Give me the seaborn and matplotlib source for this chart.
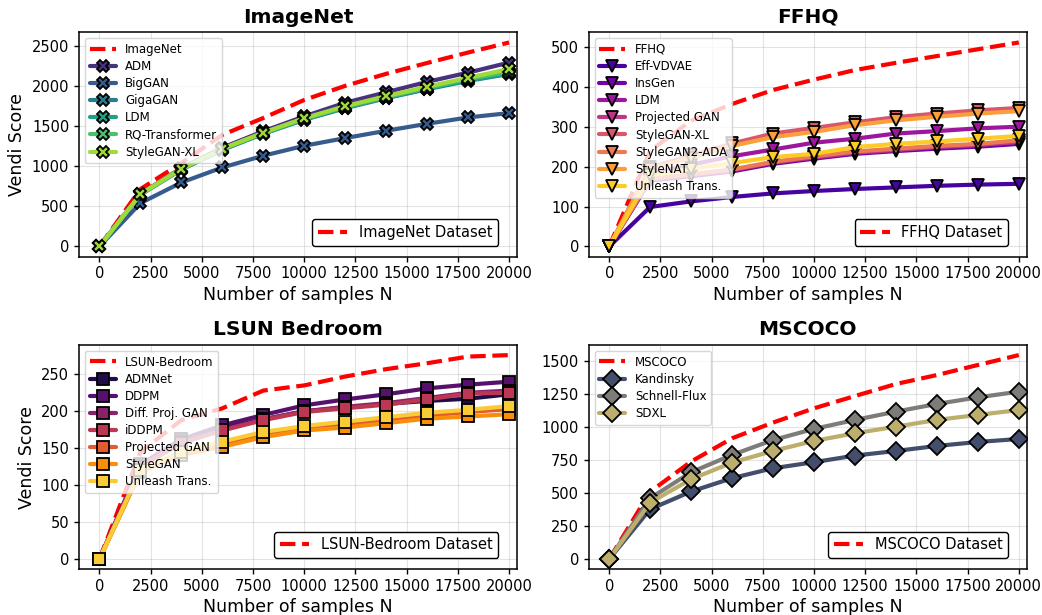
import numpy as np
import pandas as pd
import matplotlib
matplotlib.use("Agg")
import matplotlib.pyplot as plt
import seaborn as sns
from matplotlib.lines import Line2D

# Sample counts shared by every panel
n_samples = [0, 2000, 4000, 6000, 8000, 10000, 12000, 14000, 16000, 18000, 20000]

# ---- ImageNet ----
imagenet_dataset = [0, 715, 1040, 1390, 1600, 1825, 2000, 2150, 2285, 2415, 2540]
imagenet_models = ["ADM", "BigGAN", "GigaGAN", "LDM", "RQ-Transformer", "StyleGAN-XL"]
imagenet_adm = [0, 655, 975, 1230, 1435, 1620, 1790, 1920, 2050, 2165, 2290]
imagenet_biggan = [0, 540, 797, 984, 1130, 1254, 1350, 1441, 1528, 1607, 1661]
imagenet_gigagan = [0, 645, 958, 1203, 1403, 1578, 1722, 1846, 1958, 2062, 2148]
imagenet_ldm = [0, 648, 962, 1208, 1408, 1582, 1728, 1852, 1965, 2070, 2155]
imagenet_rq = [0, 650, 965, 1212, 1412, 1590, 1738, 1862, 1976, 2085, 2178]
imagenet_stylegan_xl = [0, 652, 968, 1218, 1418, 1598, 1748, 1872, 1990, 2100, 2210]

# ---- FFHQ ----
ffhq_dataset = [0, 240, 315, 357, 392, 418, 442, 460, 477, 494, 511]
ffhq_models = ["Eff-VDVAE", "InsGen", "LDM", "Projected GAN", "StyleGAN-XL",
               "StyleGAN2-ADA", "StyleNAT", "Unleash Trans."]
ffhq_eff_vdvae = [0, 99, 113, 124, 133, 139, 144, 148, 152, 155, 157]
ffhq_insgen = [0, 165, 176, 188, 207, 220, 232, 239, 245, 250, 257]
ffhq_ldm = [0, 182, 205, 226, 243, 260, 270, 283, 289, 296, 300]
ffhq_projected_gan = [0, 168, 179, 191, 210, 223, 235, 242, 249, 254, 262]
ffhq_stylegan_xl = [0, 198, 228, 258, 283, 297, 311, 324, 333, 341, 347]
ffhq_stylegan2_ada = [0, 170, 181, 193, 212, 226, 238, 245, 252, 257, 266]
ffhq_stylenat = [0, 195, 222, 252, 274, 287, 304, 316, 325, 333, 339]
ffhq_unleash = [0, 178, 195, 209, 224, 232, 249, 257, 263, 270, 277]

# ---- LSUN Bedroom ----
lsun_dataset = [0, 145, 188, 204, 228, 235, 247, 257, 265, 274, 276]
lsun_models = ["ADMNet", "DDPM", "Diff. Proj. GAN", "iDDPM", "Projected GAN",
               "StyleGAN", "Unleash Trans."]
lsun_admnet = [0, 126, 158, 177, 189, 200, 205, 210, 214, 217, 223]
lsun_ddpm = [0, 128, 162, 181, 195, 208, 216, 223, 231, 236, 240]
lsun_diff_proj_gan = [0, 126, 158, 175, 189, 200, 206, 211, 218, 225, 228]
lsun_iddpm = [0, 125, 157, 174, 188, 199, 204, 209, 216, 224, 225]
lsun_projected_gan = [0, 119, 143, 155, 168, 176, 182, 188, 194, 199, 203]
lsun_stylegan = [0, 118, 141, 152, 165, 174, 178, 184, 190, 193, 196]
lsun_unleash = [0, 121, 145, 159, 172, 180, 186, 192, 198, 202, 207]

# ---- MSCOCO ----
mscoco_dataset = [0, 510, 739, 915, 1034, 1142, 1235, 1326, 1394, 1470, 1545]
mscoco_models = ["Kandinsky", "Schnell-Flux", "SDXL"]
mscoco_kandinsky = [0, 378, 512, 613, 688, 734, 784, 819, 857, 887, 910]
mscoco_schnell_flux = [0, 461, 658, 789, 902, 986, 1054, 1117, 1175, 1225, 1268]
mscoco_sdxl = [0, 428, 605, 731, 819, 895, 953, 1003, 1054, 1092, 1129]

panels = [
    dict(title="ImageNet", ref=imagenet_dataset, ref_label="ImageNet",
         models=imagenet_models,
         values=[imagenet_adm, imagenet_biggan, imagenet_gigagan, imagenet_ldm,
                 imagenet_rq, imagenet_stylegan_xl],
         cmap="viridis", marker="X"),
    dict(title="FFHQ", ref=ffhq_dataset, ref_label="FFHQ",
         models=ffhq_models,
         values=[ffhq_eff_vdvae, ffhq_insgen, ffhq_ldm, ffhq_projected_gan,
                 ffhq_stylegan_xl, ffhq_stylegan2_ada, ffhq_stylenat, ffhq_unleash],
         cmap="plasma", marker="v"),
    dict(title="LSUN Bedroom", ref=lsun_dataset, ref_label="LSUN-Bedroom",
         models=lsun_models,
         values=[lsun_admnet, lsun_ddpm, lsun_diff_proj_gan, lsun_iddpm,
                 lsun_projected_gan, lsun_stylegan, lsun_unleash],
         cmap="inferno", marker="s"),
    dict(title="MSCOCO", ref=mscoco_dataset, ref_label="MSCOCO",
         models=mscoco_models,
         values=[mscoco_kandinsky, mscoco_schnell_flux, mscoco_sdxl],
         cmap="cividis", marker="D"),
]

sns.set_theme(style="ticks")
plt.rcParams["font.family"] = ["DejaVu Sans"]
for key in ["axes.edgecolor", "xtick.color", "ytick.color", "text.color",
            "axes.labelcolor", "xtick.labelcolor", "ytick.labelcolor"]:
    plt.rcParams[key] = "black"

fig, axes = plt.subplots(2, 2, figsize=(10.42, 6.15), dpi=100)
fig.subplots_adjust(left=0.0758, right=0.9856, top=0.9475, bottom=0.0743,
                    wspace=0.163, hspace=0.393)

MS = 9
MEW = 1.3
LW = 3

for ax, p in zip(axes.flat, panels):
    palette = sns.color_palette(p["cmap"], len(p["models"]))

    ref_df = pd.DataFrame({"N": n_samples, "score": p["ref"]})
    sns.lineplot(data=ref_df, x="N", y="score", ax=ax, color="red",
                 linestyle="--", linewidth=LW, zorder=2)

    rows = []
    for name, vals in zip(p["models"], p["values"]):
        for n, v in zip(n_samples, vals):
            rows.append((name, n, v))
    df = pd.DataFrame(rows, columns=["model", "N", "score"])
    sns.lineplot(data=df, x="N", y="score", hue="model", hue_order=p["models"],
                 palette=palette, marker=p["marker"], markersize=MS,
                 markeredgecolor="black", markeredgewidth=MEW,
                 linewidth=LW, legend=False, ax=ax, zorder=3)

    ax.set_xlim(-1000, 20400)
    ax.set_title(p["title"], fontsize=14.5, fontweight="bold", pad=7)
    ax.set_xlabel("Number of samples N", fontsize=12.5, labelpad=3)
    ax.set_ylabel("Vendi Score" if ax in axes[:, 0] else "", fontsize=12.5)
    ax.tick_params(axis="both", labelsize=10.5, length=3.5, width=1)
    ax.grid(True, color="#b0b0b0", alpha=0.35, linewidth=0.8)
    for s in ax.spines.values():
        s.set_linewidth(1.1)
        s.set_visible(True)

    handles = [Line2D([], [], color="red", linestyle="--", linewidth=LW,
                      label=p["ref_label"])]
    for name, c in zip(p["models"], palette):
        handles.append(Line2D([], [], color=c, marker=p["marker"], markersize=MS,
                              markeredgecolor="black", markeredgewidth=MEW,
                              linewidth=LW, label=name))
    leg1 = ax.legend(handles=handles, loc="upper left", fontsize=8.5,
                     frameon=True, framealpha=0.8, edgecolor="0.8",
                     labelspacing=0.35, handlelength=2.2, borderpad=0.4)
    ax.add_artist(leg1)

    proxy = Line2D([], [], color="red", linestyle="--", linewidth=LW,
                   label=f"{p['ref_label']} Dataset")
    ax.legend(handles=[proxy], loc="lower right", fontsize=10.5,
              frameon=True, framealpha=1.0, edgecolor="black",
              bbox_to_anchor=(0.957, 0.049), borderaxespad=0)

fig.savefig("out.png", dpi=100)
